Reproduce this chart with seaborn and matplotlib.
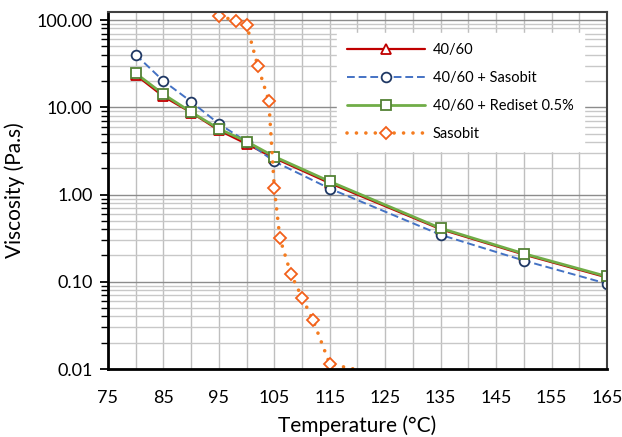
import matplotlib
matplotlib.use("Agg")
import matplotlib.pyplot as plt
from matplotlib.ticker import FixedLocator, LogLocator, NullFormatter, FuncFormatter
import seaborn as sns
import pandas as pd

# ---- data ----
temp_base = [80, 85, 90, 95, 100, 105, 115, 135, 150, 165]
visc_4060 = [23.5, 13.3, 8.7, 5.45, 3.8, 2.62, 1.35, 0.40, 0.205, 0.112]
visc_4060_sasobit = [40.0, 20.0, 11.6, 6.45, 4.05, 2.39, 1.17, 0.345, 0.175, 0.095]
visc_4060_rediset = [24.5, 14.1, 8.8, 5.66, 4.05, 2.72, 1.41, 0.41, 0.21, 0.115]
temp_sasobit = [95, 98, 100, 102, 104, 105, 106, 108, 110, 112, 115, 120]
visc_sasobit = [112, 98, 88, 30, 11.9, 1.18, 0.316, 0.122, 0.066, 0.036, 0.0114, 0.0098]

series_names = ["40/60", "40/60 + Sasobit", "40/60 + Rediset 0.5%", "Sasobit"]
x_ticks = [75, 85, 95, 105, 115, 125, 135, 145, 155, 165]
y_ticks = [0.01, 0.1, 1, 10, 100]

sns.set_theme(style="white")
plt.rcParams["font.family"] = ["Lato", "DejaVu Sans"]

fig = plt.figure(figsize=(6.22, 4.37), dpi=100)
ax = fig.add_axes([0.1736, 0.1556, 0.9759 - 0.1736, 0.9725 - 0.1556])

styles = [
    dict(color="#C00000", marker="^", mec="#C00000", lw=1.6, ms=7),
    dict(color="#4472C4", marker="o", mec="#1F3864", lw=1.4, ms=7),
    dict(color="#70AD47", marker="s", mec="#548235", lw=2.0, ms=7.5),
    dict(color="#F47C20", marker="D", mec="#F2601A", lw=2.6, ms=6.5),
]
datasets = [
    (temp_base, visc_4060),
    (temp_base, visc_4060_sasobit),
    (temp_base, visc_4060_rediset),
    (temp_sasobit, visc_sasobit),
]

for name, (xs, ys), st in zip(series_names, datasets, styles):
    df = pd.DataFrame({"T": xs, "V": ys})
    sns.lineplot(data=df, x="T", y="V", ax=ax, label=name, color=st["color"],
                 marker=st["marker"], markersize=st["ms"], markerfacecolor="white",
                 markeredgecolor=st["mec"], markeredgewidth=1.3, linewidth=st["lw"],
                 estimator=None, sort=False)

lines = ax.get_lines()
lines[1].set_dashes((4, 2))
lines[3].set_dashes((0.01, 2.6))
lines[3].set_dash_capstyle("round")
lines[3].set_markevery(list(range(len(temp_sasobit) - 1)))

ax.set_yscale("log")
ax.set_xlim(75, 165)
ax.set_ylim(0.01, 123.5)

ax.xaxis.set_major_locator(FixedLocator(x_ticks))
ax.xaxis.set_minor_locator(FixedLocator(list(range(75, 166, 5))))
ax.yaxis.set_major_locator(FixedLocator(y_ticks))
ax.yaxis.set_minor_locator(LogLocator(base=10, subs=range(2, 10), numticks=20))
ax.yaxis.set_minor_formatter(NullFormatter())
ax.yaxis.set_major_formatter(FuncFormatter(lambda v, p: f"{v:.2f}"))

ax.grid(which="minor", axis="x", color="#BFBFBF", lw=1.0)
ax.grid(which="major", axis="x", color="#BFBFBF", lw=1.0)
ax.grid(which="minor", axis="y", color="#C8C8C8", lw=1.0)
ax.grid(which="major", axis="y", color="#8C8C8C", lw=1.0)
ax.set_axisbelow(True)

ax.tick_params(axis="x", which="both", length=0, pad=15, labelsize=13, colors="#000000")
ax.tick_params(axis="y", which="major", length=6, width=1.3, direction="out", left=True,
               pad=5, labelsize=13, colors="#000000")
ax.tick_params(axis="y", which="minor", length=5, width=1.0, direction="out", left=True,
               colors="#000000")

for side in ["left", "bottom"]:
    ax.spines[side].set_color("#000000")
    ax.spines[side].set_linewidth(2.0)
for side in ["top", "right"]:
    ax.spines[side].set_color("#404040")
    ax.spines[side].set_linewidth(1.5)

ax.set_xlabel("Temperature (°C)", fontsize=15, labelpad=7, color="#000000")
ax.set_ylabel("Viscosity (Pa.s)", fontsize=15, labelpad=8, color="#000000")

leg = ax.legend(loc="upper right", bbox_to_anchor=(0.968, 0.962), frameon=True,
                fancybox=False, framealpha=1.0, edgecolor="white", facecolor="white",
                fontsize=10.5, handlelength=5.4, labelspacing=0.95, borderpad=0.7,
                handletextpad=0.5)
for t in leg.get_texts():
    t.set_color("#000000")

fig.savefig("out.png", dpi=100)
